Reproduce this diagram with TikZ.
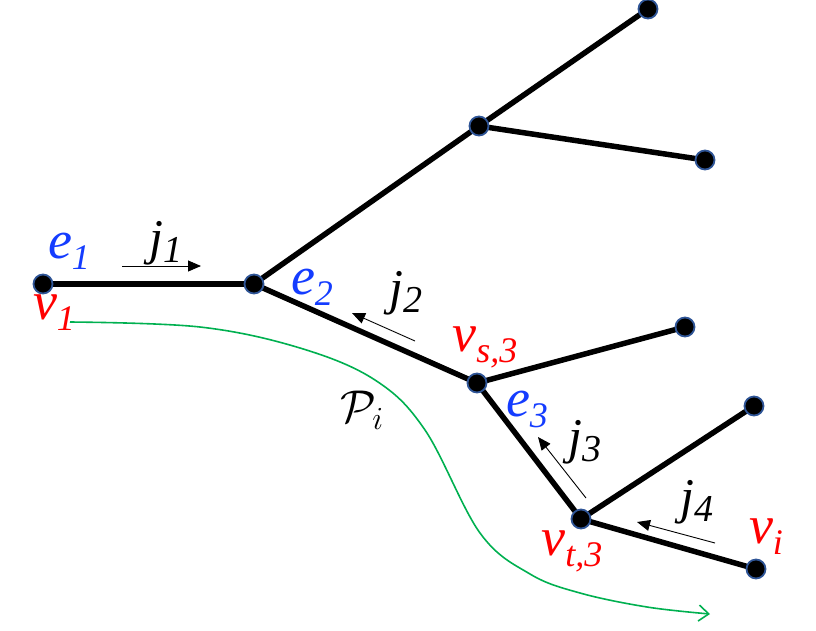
\RequirePackage{fix-cm}
\documentclass[tikz,border=0pt]{standalone}
\usepackage{fontspec}
\setmainfont{Liberation Serif}
\usetikzlibrary{arrows.meta}
\definecolor{redlab}{RGB}{255,0,0}
\definecolor{bluelab}{RGB}{20,60,255}
\definecolor{pathgreen}{RGB}{0,176,80}
\definecolor{dotborder}{RGB}{47,85,151}
\newcommand{\sublab}[2]{{\fontsize{54}{54}\selectfont\itshape #1}\raisebox{-11pt}{\fontsize{36}{36}\selectfont\itshape #2}}
\newcommand{\jlab}[2]{{\fontsize{50}{50}\selectfont\itshape #1}\raisebox{-8pt}{\fontsize{38}{38}\selectfont\itshape #2}}
\tikzset{
  dotnode/.style={circle, fill=black, draw=dotborder, line width=1.8pt, minimum size=19pt, inner sep=0pt},
  treeedge/.style={line width=5.5pt, black},
  jarrow/.style={line width=0.9pt, -{Triangle[length=13pt,width=11pt]}},
  lab/.style={inner sep=0pt, anchor=center},
}
\begin{document}
\begin{tikzpicture}[x=1pt,y=-1pt]
\useasboundingbox (0,0) rectangle (816,630);
% tree coordinates
\coordinate (v1) at (43,284);
\coordinate (a) at (254,284);
\coordinate (b) at (479,126);
\coordinate (t1) at (648,9);
\coordinate (t2) at (705,160);
\coordinate (vs) at (477,383);
\coordinate (t3) at (685,327);
\coordinate (vt) at (581,519);
\coordinate (t4) at (754,406);
\coordinate (vi) at (756,569);
% edges
\draw[treeedge] (v1) -- (a);
\draw[treeedge] (a) -- (b);
\draw[treeedge] (b) -- (t1);
\draw[treeedge] (b) -- (t2);
\draw[treeedge] (a) -- (vs);
\draw[treeedge] (vs) -- (t3);
\draw[treeedge] (vs) -- (vt);
\draw[treeedge] (vt) -- (t4);
\draw[treeedge] (vt) -- (vi);
% dots
\foreach \p in {v1,a,b,t1,t2,vs,t3,vt,t4,vi} \node[dotnode] (d\p) at (\p) {};
% labels
\node[lab, text=bluelab] (le1) at (69,251) {\sublab{e}{1}};
\node[lab, text=redlab] (lv1) at (54,313) {\sublab{v}{1}};
\node[lab] (lj1) at (166,243) {\jlab{j}{1}};
\node[lab, text=bluelab] (le2) at (312,287) {\sublab{e}{2}};
\node[lab] (lj2) at (406,293) {\jlab{j}{2}};
\node[lab, text=redlab] (lvs) at (485,347) {\sublab{v}{s,3}};
\node[lab, text=bluelab] (le3) at (527,409) {\sublab{e}{3}};
\node[lab] (lj3) at (585,442) {\jlab{j}{3}};
\node[lab] (lj4) at (697,502) {\jlab{j}{4}};
\node[lab, text=redlab] (lvt) at (572,551) {\sublab{v}{t,3}};
\node[lab, text=redlab] (lvi) at (766,537) {\sublab{v}{i}};
\node[lab] (lpi) at (362,410) {\fontsize{46}{46}\selectfont $\mathcal{P}_i$};
% current arrows
\coordinate (j1s) at (122,266); \coordinate (j1e) at (201,266);
\coordinate (j2s) at (415,341); \coordinate (j2e) at (352,313);
\coordinate (j3s) at (586,498); \coordinate (j3e) at (538,437);
\coordinate (j4s) at (715,543); \coordinate (j4e) at (637,522);
\draw[jarrow] (j1s) -- (j1e);
\draw[jarrow] (j2s) -- (j2e);
\draw[jarrow] (j3s) -- (j3e);
\draw[jarrow] (j4s) -- (j4e);
% path P_i
\draw[pathgreen, line width=1.6pt, -{Straight Barb[length=10pt,width=16pt]}]
  plot[smooth, tension=0.6] coordinates {(70,322) (200,327) (300,348) (375,380) (425,430) (480,533) (530,574) (580,593) (647,607) (710,614)};
\end{tikzpicture}
\end{document}
